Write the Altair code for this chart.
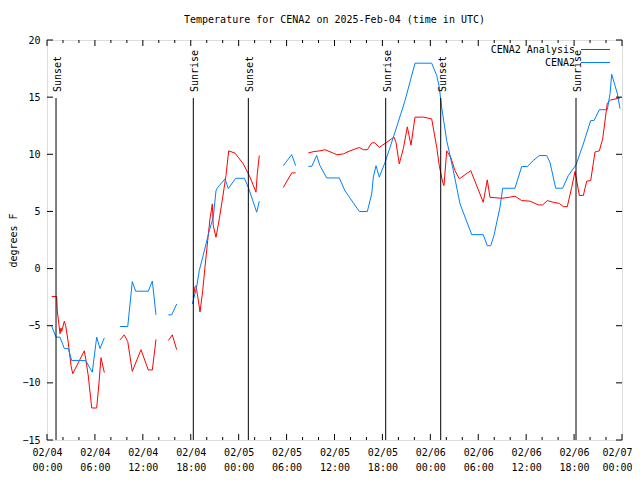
import json
import altair as alt
import pandas as pd

FONT = "DejaVu Sans Mono"

# ---- data (hours since 2025-02-04 00:00 UTC, temperature in degrees F) ----
anal_hours = [0.59, 1.21, 1.29, 1.63, 1.75, 1.84, 2.17, 2.34, 2.67, 3.01, 3.22, 4.67, 4.85, 5.17, 5.60, 6.22, 6.51, 6.76, 7.18,
              9.14, 9.68, 10.11, 10.68, 11.77, 12.68, 13.19, 13.65,
              15.19, 15.69, 16.24,
              18.32, 18.53, 18.66, 18.82, 19.16, 19.37, 19.50, 19.78, 20.12, 20.41, 20.70, 20.82, 21.16, 21.58, 22.00, 22.41,
              22.75, 23.54, 23.95, 24.58, 25.42, 26.17, 26.33, 26.58,
              29.59, 30.64, 31.14,
              32.72, 33.43, 34.18, 34.81, 35.85, 36.28, 37.10, 37.94, 39.11, 39.61, 40.11, 40.66, 41.07, 41.61, 42.54, 43.45,
              43.70, 44.11, 44.62, 45.12, 45.58, 46.08, 47.12, 48.17, 48.80, 49.12, 49.55, 49.71, 50.05, 50.55, 51.09, 51.63,
              53.06, 54.63, 55.13, 55.47, 56.94, 57.89, 58.60, 59.44, 60.48, 61.52, 62.07, 62.65, 63.40, 64.15, 64.65, 65.15,
              65.70, 66.12, 66.66, 67.16, 67.58, 68.08, 68.62, 69.16, 69.58, 70.16, 70.59, 71.25, 71.75]
anal_temp = [-2.45, -2.45, -3.7, -5.7, -5.2, -5.5, -4.6, -5.0, -6.5, -8.5, -9.2, -7.2, -7.9, -9.4, -12.2, -12.2, -10.0, -7.8, -9.1,
             -6.24, -5.8, -6.39, -9.0, -7.1, -8.87, -8.87, -6.2,
             -6.3, -5.8, -7.1,
             -2.5, -1.6, -1.5, -2.2, -3.8, -2.65, -1.9, 0.1, 2.45, 4.35, 5.66, 3.76, 2.74, 4.35, 6.24, 8.14,
             10.3, 10.1, 9.74, 9.16, 8.0, 6.68, 8.29, 9.89,
             7.1, 8.37, 8.37,
             10.12, 10.24, 10.3, 10.4, 10.1, 9.97, 10.03, 10.3, 10.6, 10.4, 10.4, 11.0, 11.0, 10.6, 11.05, 11.5,
             11.05, 9.16, 10.5, 12.4, 10.8, 13.25, 13.25, 13.1, 10.6, 9.0, 7.55, 7.26, 10.3, 9.74, 8.57, 7.85,
             8.57, 5.8, 7.76, 6.24, 6.15, 6.24, 6.33, 5.95, 5.9, 5.57, 5.57, 5.95, 5.8, 5.7, 5.42, 5.42,
             7.1, 8.5, 6.4, 6.4, 7.65, 7.7, 10.2, 10.3, 11.35, 14.47, 14.76, 14.85, 14.93]
anal_seg = [1] * 19 + [2] * 8 + [3] * 3 + [4] * 24 + [5] * 3 + [6] * 61

obs_hours = [0.59, 1.13, 1.63, 2.17, 2.67, 3.09, 4.85, 5.67, 6.22, 6.64, 7.18,
             9.14, 10.11, 10.68, 11.10, 12.68, 13.19, 13.65,
             15.19, 15.62, 16.24,
             18.19, 18.53, 18.74, 19.07, 19.50, 19.91, 20.32, 20.82, 21.16, 21.38, 22.29, 22.70, 23.63, 24.71, 25.21,
             26.26, 26.58,
             29.59, 30.64, 31.14,
             32.72, 33.15, 33.77, 34.18, 35.02, 36.60, 37.32, 39.11, 40.11, 40.66, 40.86, 41.20, 41.61, 42.33, 42.95,
             43.79, 44.83, 46.08, 48.17, 48.80, 49.12, 49.42, 50.05, 50.88, 51.72, 53.18, 54.63, 55.13, 55.56, 55.97,
             56.72, 57.06, 58.60, 59.44, 60.14, 60.89, 61.64, 62.57, 62.98, 63.70, 64.57, 65.28, 66.24, 67.15, 68.08,
             68.50, 69.16, 70.16, 70.50, 70.71, 71.13, 71.42, 71.75]
obs_temp = [-5.05, -6.0, -6.0, -7.0, -7.0, -8.05, -8.05, -9.07, -6.0, -7.0, -6.06,
            -5.07, -5.07, -1.14, -1.98, -1.98, -1.1, -4.05,
            -4.05, -4.05, -3.1,
            -3.1, -2.2, -1.6, -0.17, 1.0, 2.16, 3.3, 4.5, 6.8, 7.1, 7.85, 7.0, 7.9, 7.9, 7.1,
            4.93, 5.9,
            9.0, 9.97, 9.0,
            8.95, 8.95, 9.9, 9.0, 7.93, 7.93, 6.8, 4.99, 4.99, 6.53, 8.0, 9.0, 8.0, 9.3, 10.6,
            12.4, 14.7, 17.97, 17.97, 16.9, 15.87, 14.1, 11.2, 8.57, 5.66, 2.97, 2.97, 2.0, 2.0, 2.9,
            5.37, 7.03, 7.03, 8.93, 8.93, 9.45, 9.89, 9.89, 9.3, 7.03, 7.03, 8.14, 9.07, 10.9, 12.95,
            12.95, 13.9, 13.9, 15.3, 17.0, 16.0, 15.3, 14.0]
obs_seg = [1] * 11 + [2] * 7 + [3] * 3 + [4] * 17 + [5] * 3 + [6] * 53

series_names = ["CENA2 Analysis", "CENA2"]
series_colors = ["#ff0000", "#0080ff"]

event_hours = [1.13, 18.32, 25.21, 42.41, 49.30, 66.24]
event_labels = ["Sunset", "Sunrise", "Sunset", "Sunrise", "Sunset", "Sunrise"]

x_ticks = [0, 6, 12, 18, 24, 30, 36, 42, 48, 54, 60, 66, 72]
x_tick_dates = ["02/04", "02/04", "02/04", "02/04", "02/05", "02/05", "02/05", "02/05",
                "02/06", "02/06", "02/06", "02/06", "02/07"]
x_tick_times = ["00:00", "06:00", "12:00", "18:00", "00:00", "06:00", "12:00", "18:00",
                "00:00", "06:00", "12:00", "18:00", "00:00"]
x_minor = [2, 4, 8, 10, 14, 16, 20, 22, 26, 28, 32, 34, 38, 40, 44, 46, 50, 52, 56, 58, 62, 64, 68, 70]
y_ticks = [-15, -10, -5, 0, 5, 10, 15, 20]

# ---- tables ----
df = pd.concat([
    pd.DataFrame({"hours": anal_hours, "temp": anal_temp, "seg": anal_seg, "series": series_names[0]}),
    pd.DataFrame({"hours": obs_hours, "temp": obs_temp, "seg": obs_seg, "series": series_names[1]}),
], ignore_index=True)
df["key"] = df["series"] + "-" + df["seg"].astype(str)

ev = pd.DataFrame({"hours": event_hours, "label": event_labels})
xt = pd.DataFrame({"hours": x_ticks})
xm = pd.DataFrame({"hours": x_minor})
yt = pd.DataFrame({"v": y_ticks})

W, H = 575, 400
xs = alt.Scale(domain=[0, 72], nice=False, zero=False)
ys = alt.Scale(domain=[-15, 20], nice=False, zero=False)

label_expr = "[{d}[datum.value / 6], {t}[datum.value / 6]]".format(
    d=json.dumps(x_tick_dates), t=json.dumps(x_tick_times))
last_tick = "datum.value == {}".format(x_ticks[-1])

lines = alt.Chart(df).mark_line(strokeWidth=1, clip=True).encode(
    x=alt.X("hours:Q", scale=xs, axis=alt.Axis(
        values=x_ticks, labelExpr=label_expr, ticks=False, domain=False, grid=False,
        labelFont=FONT, labelFontSize=10, labelColor="black", labelLineHeight=15,
        labelBaseline="top", labelPadding=7, labelFlush=False, labelOverlap=False, title=None,
        labelAlign=alt.condition(last_tick, alt.value("right"), alt.value("center")),
        labelOffset=alt.condition(last_tick, alt.value(10), alt.value(0)))),
    y=alt.Y("temp:Q", scale=ys, axis=alt.Axis(
        values=y_ticks, ticks=False, domain=False, grid=False,
        labelFont=FONT, labelFontSize=10, labelColor="black", labelPadding=7,
        title="degrees F", titleFont=FONT, titleFontSize=10, titleFontWeight="normal",
        titleColor="black", titleAngle=270, titleX=-31, titleY=200, titleAlign="center",
        titleBaseline="alphabetic")),
    color=alt.Color("series:N", scale=alt.Scale(domain=series_names, range=series_colors), legend=None),
    detail="key:N",
    order="hours:Q",
)

ev_rules = alt.Chart(ev).mark_rule(color="black", strokeWidth=1).encode(
    x=alt.X("hours:Q", scale=xs), y=alt.value(58), y2=alt.value(H))
ev_text = alt.Chart(ev).mark_text(angle=270, align="left", baseline="alphabetic", dy=5,
                                  font=FONT, fontSize=10, color="black").encode(
    x=alt.X("hours:Q", scale=xs), y=alt.value(52), text="label:N")

tick_layers = [
    alt.Chart(xt).mark_rule(color="black").encode(x=alt.X("hours:Q", scale=xs), y=alt.value(H), y2=alt.value(H - 6)),
    alt.Chart(xt).mark_rule(color="black").encode(x=alt.X("hours:Q", scale=xs), y=alt.value(0), y2=alt.value(6)),
    alt.Chart(xm).mark_rule(color="black").encode(x=alt.X("hours:Q", scale=xs), y=alt.value(H), y2=alt.value(H - 3)),
    alt.Chart(xm).mark_rule(color="black").encode(x=alt.X("hours:Q", scale=xs), y=alt.value(0), y2=alt.value(3)),
    alt.Chart(yt).mark_rule(color="black").encode(y=alt.Y("v:Q", scale=ys), x=alt.value(0), x2=alt.value(6)),
    alt.Chart(yt).mark_rule(color="black").encode(y=alt.Y("v:Q", scale=ys), x=alt.value(W), x2=alt.value(W - 6)),
]

legend_layers = []
for i, (name, col) in enumerate(zip(series_names, series_colors)):
    ldf = pd.DataFrame({"label": [name]})
    yy = 9.5 + 13 * i
    legend_layers.append(alt.Chart(ldf).mark_text(align="right", baseline="middle", font=FONT, fontSize=10,
                                                  color="black").encode(
        x=alt.value(528), y=alt.value(yy), text="label:N"))
    legend_layers.append(alt.Chart(ldf).mark_rule(color=col, strokeWidth=1).encode(
        x=alt.value(534), x2=alt.value(563), y=alt.value(yy)))

chart = alt.layer(lines, ev_rules, ev_text, *tick_layers, *legend_layers).properties(
    width=W, height=H,
    title=alt.Title("Temperature for CENA2 on 2025-Feb-04 (time in UTC)", font=FONT, fontSize=10,
                    fontWeight="normal", color="black", anchor="middle", baseline="alphabetic", offset=2),
    autosize=alt.AutoSizeParams(type="none"),
    padding={"left": 39, "top": 32, "right": 10, "bottom": 40},
).configure_view(stroke="black", strokeWidth=1).configure(background="white")

chart.save("out.html", embed_options={"renderer": "svg", "actions": False})
